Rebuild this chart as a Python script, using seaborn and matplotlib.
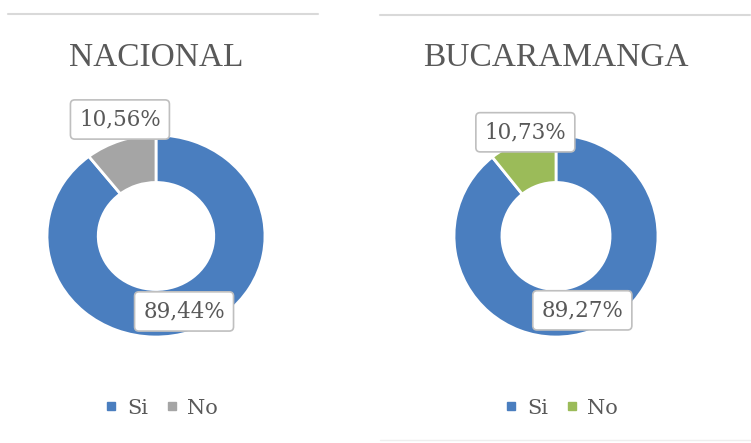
import numpy as np
import seaborn as sns
import matplotlib.pyplot as plt
from matplotlib.lines import Line2D

# data
respuestas = ['Si', 'No']
nacional = [89.44, 10.56]
bucaramanga = [89.27, 10.73]
titulos = ['NACIONAL', 'BUCARAMANGA']

sns.set_theme(style='white')
plt.rcParams['font.family'] = ['DejaVu Serif']

W, H = 751, 443
fig = plt.figure(figsize=(W / 100, H / 100), dpi=100)
fig.patch.set_facecolor('white')

azul = '#4a7ebf'
colores = [sns.color_palette([azul, '#a5a5a5']), sns.color_palette([azul, '#9bbb59'])]

# px layout per panel: center x, center y (from top), radius x, radius y
paneles = [(156, 236, 109, 101), (556, 236, 102, 101)]
# label placement: radial distance and angle shift (deg) per wedge
dist_labels = [(0.79, 1.2), (0.78, 1.07)]
giro_labels = (0, -3)
texto = '#595959'


def fx(px):
    return px / W


def fy(py):
    return 1 - py / H


for i, valores in enumerate([nacional, bucaramanga]):
    cx, cy, rx, ry = paneles[i]
    w, h = 2.6 * rx, 2.6 * ry
    ax = fig.add_axes([fx(cx - w / 2), fy(cy + h / 2), w / W, h / H])
    wedges, _ = ax.pie(valores, colors=colores[i], startangle=90, counterclock=False,
                       wedgeprops=dict(width=0.47, edgecolor='white', linewidth=2))
    ax.set_xlim(-1.3, 1.3)
    ax.set_ylim(-1.3, 1.3)
    ax.set_aspect('auto')
    ax.axis('off')

    for wdg, v, d, g in zip(wedges, valores, dist_labels[i], giro_labels):
        ang = np.deg2rad((wdg.theta1 + wdg.theta2) / 2 + g)
        ax.text(d * np.cos(ang), d * np.sin(ang), f'{v:.2f}%'.replace('.', ','),
                ha='center', va='center', fontsize=15.5, color=texto,
                bbox=dict(boxstyle='round,pad=0.4,rounding_size=0.2', fc='white',
                          ec='#bfbfbf', lw=1.2))

    fig.text(fx(cx), fy(58), titulos[i], ha='center', va='center',
             fontsize=24, color=texto, family='Liberation Serif')

    handles = [Line2D([], [], marker='s', ls='', color=c, markersize=6) for c in colores[i]]
    fig.legend(handles, respuestas, loc='center', bbox_to_anchor=(fx(cx + 5), fy(408)),
               ncol=2, frameon=False, fontsize=15, handlelength=0.7, handletextpad=0.4,
               columnspacing=0.8, labelcolor=texto)

# separator lines
fig.add_artist(Line2D([fx(8), fx(318)], [fy(14), fy(14)], color='#d9d9d9', lw=1.5))
fig.add_artist(Line2D([fx(380), fx(750)], [fy(15), fy(15)], color='#d9d9d9', lw=1.5))
fig.add_artist(Line2D([fx(380), fx(750)], [fy(440), fy(440)], color='#eeeeee', lw=1))

fig.savefig('out.png', dpi=100, facecolor='white')
